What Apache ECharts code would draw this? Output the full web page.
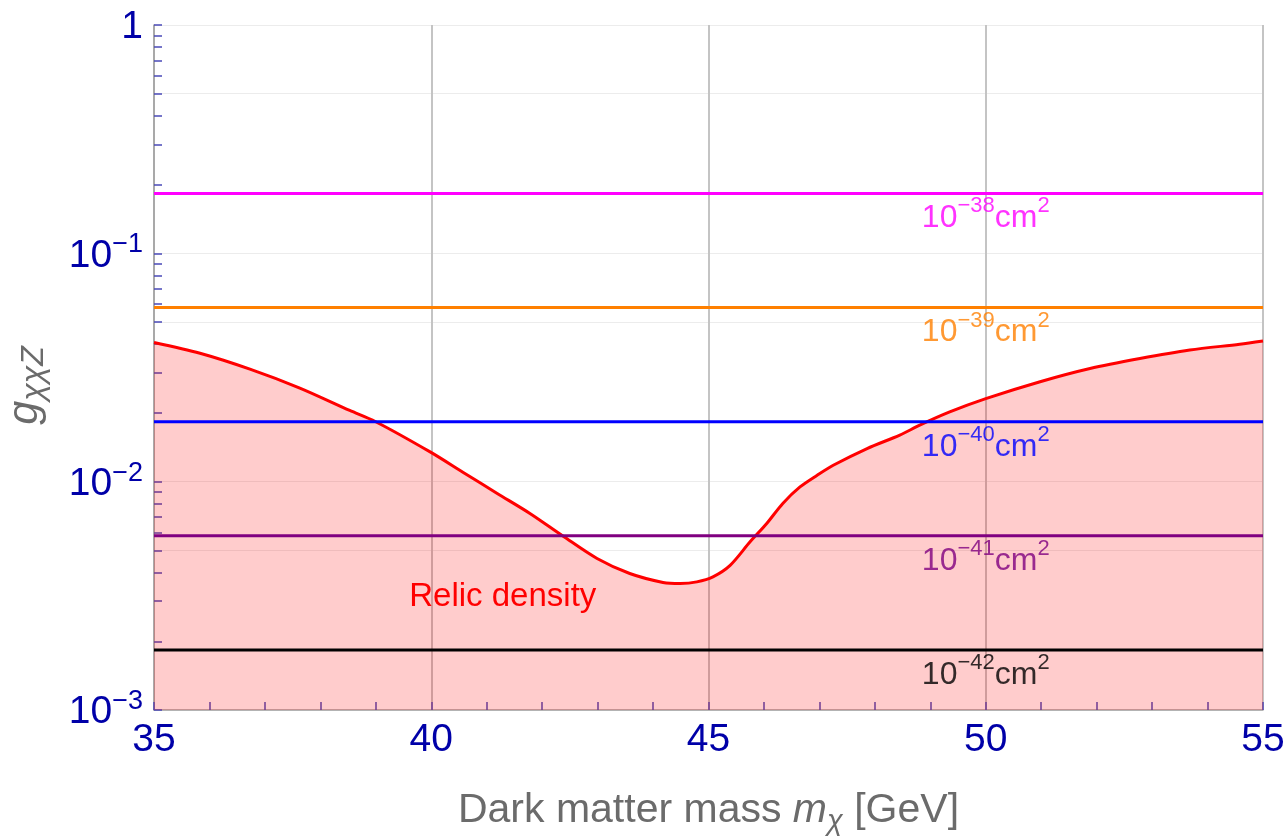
<!DOCTYPE html>
<html><head><meta charset="utf-8">
<script src="https://cdn.jsdelivr.net/npm/echarts@6/dist/echarts.min.js"></script>
<style>html,body{margin:0;padding:0;background:#fff}#c{width:1288px;height:836px}</style>
</head><body><div id="c"></div>
<script>
// ---- data ----
const massGeV = [35.00, 35.83, 36.73, 37.63, 38.53, 38.99, 39.98, 40.57, 41.19, 41.78, 42.38, 42.99, 43.58, 44.18, 44.49, 44.79, 45.08, 45.39, 45.75, 46.05, 46.34, 46.65, 46.96, 47.25, 47.86, 48.45, 48.81, 49.35, 50.00, 50.98, 51.88, 52.78, 53.68, 54.58, 55.00];
const relicCoupling = [0.0407, 0.0365, 0.0311, 0.0257, 0.0205, 0.01835, 0.0135, 0.0110, 0.00888, 0.00726, 0.00577, 0.00461, 0.00396, 0.00362, 0.00358, 0.00364, 0.00383, 0.00430, 0.00545, 0.00656, 0.00803, 0.00948, 0.01067, 0.01180, 0.01397, 0.01599, 0.01768, 0.0202, 0.0231, 0.0274, 0.0313, 0.0346, 0.0377, 0.0400, 0.0413];
const crossSectionExp = [-38, -39, -40, -41, -42];
const crossSectionCoupling = [0.183, 0.0579, 0.0183, 0.00579, 0.00183];
const crossSectionColors = ['#ff00ff', '#ff8000', '#0000ff', '#800080', '#000000'];
const xTicks = [35, 40, 45, 50, 55];
const yDecadeTicks = [0.001, 0.01, 0.1, 1];
const yMinorTicks = [0.002,0.003,0.004,0.005,0.006,0.007,0.008,0.009,
                     0.02,0.03,0.04,0.05,0.06,0.07,0.08,0.09,
                     0.2,0.3,0.4,0.5,0.6,0.7,0.8,0.9];
const yGridValues = [0.001, 0.005, 0.01, 0.05, 0.1, 0.5, 1];
const lineLabelMass = 50;
const relicLabel = 'Relic density';
const relicLabelAt = [41.29, 0.00312];

// ---- chart ----
const FONT = '"Liberation Sans", Arial, Helvetica, sans-serif';
const tickBlue = '#0000a8';
const tickColor = '#4a4ab8';
const titleGray = '#6b6b6b';
const chart = echarts.init(document.getElementById('c'), null, {renderer: 'canvas'});

const relicData = massGeV.map((m, i) => [m, relicCoupling[i]]);
const xMin = xTicks[0], xMax = xTicks[xTicks.length - 1];

const series = [{
  type: 'line', name: 'relic', xAxisIndex: 0, yAxisIndex: 0,
  data: relicData, symbol: 'none', smooth: 0.3, z: 2,
  lineStyle: {color: '#ff0000', width: 3},
  areaStyle: {color: 'rgba(255,0,0,0.2)', opacity: 1, origin: 'start'},
  markPoint: {
    symbol: 'circle', symbolSize: 0, silent: true,
    data: [{coord: relicLabelAt, value: relicLabel}],
    label: {show: true, position: 'inside', formatter: relicLabel, color: '#ff0000', fontSize: 33, fontFamily: FONT}
  }
}];
crossSectionCoupling.forEach((g, i) => {
  series.push({
    type: 'line', xAxisIndex: 0, yAxisIndex: 0, symbol: 'none', z: 3,
    data: [[xMin, g], [xMax, g]],
    lineStyle: {color: crossSectionColors[i], width: 3}
  });
  series.push({
    type: 'scatter', xAxisIndex: 0, yAxisIndex: 0, symbolSize: 0, z: 4, silent: true,
    data: [[lineLabelMass, g]],
    label: {
      show: true, position: 'bottom', distance: -3,
      formatter: '{b|10}{s|\u2212' + (-crossSectionExp[i]) + '}{b|cm}{s|2}',
      rich: {
        b: {fontSize: 32, lineHeight: 44, verticalAlign: 'bottom', color: crossSectionColors[i], fontFamily: FONT},
        s: {fontSize: 22, lineHeight: 18, verticalAlign: 'top', padding: [5, 0, 0, 0], color: crossSectionColors[i], fontFamily: FONT}
      }
    }
  });
});

const option = {
  animation: false,
  backgroundColor: '#ffffff',
  grid: {left: 154, right: 25, top: 25, bottom: 126, containLabel: false, outerBoundsMode: 'none'},
  xAxis: [{
    type: 'value', min: xMin, max: xMax, interval: 5,
    axisLine: {show: true, lineStyle: {color: '#a0a0a0', width: 1.5}},
    axisTick: {show: true, inside: true, length: 8, lineStyle: {color: tickColor, width: 1.5}},
    minorTick: {show: true, splitNumber: 5, length: 8, lineStyle: {color: tickColor, width: 1.5}},
    splitLine: {show: true, lineStyle: {color: '#c4c4c4', width: 2}},
    axisLabel: {color: tickBlue, fontSize: 39, fontFamily: FONT, margin: 10, lineHeight: 40},
    name: '{t|Dark matter mass }{i|m}{sub|\u03c7}{t| [GeV]}',
    nameLocation: 'middle', nameGap: 80,
    nameTextStyle: {
      rich: {
        t: {fontSize: 41, lineHeight: 46, verticalAlign: 'top', color: titleGray, fontFamily: FONT},
        i: {fontSize: 41, lineHeight: 46, verticalAlign: 'top', color: titleGray, fontFamily: FONT, fontStyle: 'italic'},
        sub: {fontSize: 29, lineHeight: 20, verticalAlign: 'bottom', color: titleGray, fontFamily: FONT, fontStyle: 'italic'}
      }
    }
  }],
  yAxis: [{
    type: 'log', logBase: 10, min: 0.001, max: 1,
    axisLine: {show: true, lineStyle: {color: '#a0a0a0', width: 1.5}},
    axisTick: {show: true, inside: true, length: 8, lineStyle: {color: tickColor, width: 1.5},
               customValues: yDecadeTicks.concat(yMinorTicks)},
    splitLine: {show: false},
    axisLabel: {
      customValues: yDecadeTicks, margin: 11,
      formatter: v => {
        const e = Math.round(Math.log10(v));
        return e === 0 ? '{n|1}' : '{n|10}{e|\u2212' + (-e) + '}';
      },
      rich: {
        n: {fontSize: 39, lineHeight: 44, verticalAlign: 'bottom', color: tickBlue, fontFamily: FONT},
        e: {fontSize: 27, lineHeight: 16, verticalAlign: 'top', color: tickBlue, fontFamily: FONT}
      }
    },
    name: '{g|g}{s|\u03c7\u03c7Z}',
    nameLocation: 'middle', nameGap: 104,
    nameTextStyle: {
      padding: [0, 36, 0, 0],
      rich: {
        g: {fontSize: 43, lineHeight: 46, verticalAlign: 'top', color: titleGray, fontFamily: FONT, fontStyle: 'italic'},
        s: {fontSize: 32, lineHeight: 24, verticalAlign: 'bottom', color: titleGray, fontFamily: FONT, fontStyle: 'italic'}
      }
    }
  }, {
    type: 'log', logBase: 10, min: 0.001, max: 1, position: 'left',
    axisLine: {show: false}, axisLabel: {show: false},
    axisTick: {show: false, customValues: yGridValues},
    splitLine: {show: true, lineStyle: {color: '#ececec', width: 1}}
  }],
  series: series
};
chart.setOption(option);
</script>
</body></html>
